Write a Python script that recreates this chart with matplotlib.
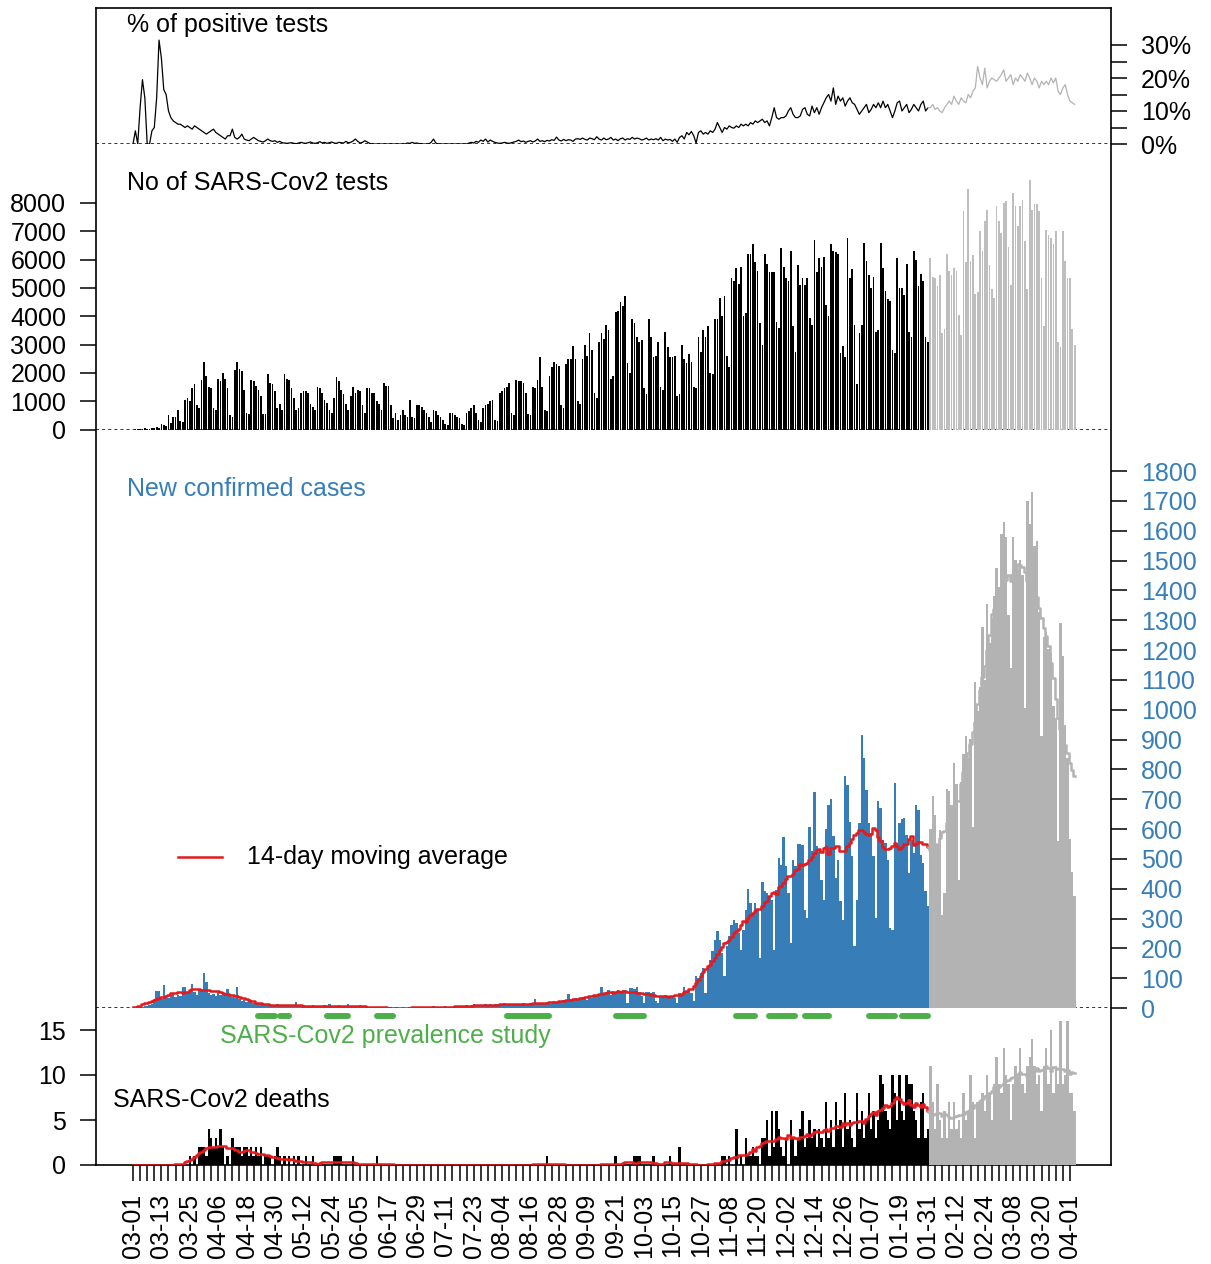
import matplotlib
matplotlib.use('Agg')
import matplotlib.pyplot as plt
import numpy as np
import pandas as pd

plt.rcParams['font.family'] = ['Liberation Sans', 'DejaVu Sans']
plt.rcParams['font.size'] = 18

start_date = '2020-03-01'
last_black_day = 336          # 2021-01-31, later days are drawn in grey

# daily values, one row per week (Mon..Sun); first row is Sun 2020-03-01
pos_pct = [
    0,
    4, 0, 11, 19.5, 14, 0, 0,
    4, 5, 14, 31.5, 26, 16.5, 15,
    10, 8, 7, 6.5, 6, 6, 5.5,
    5, 5.5, 5, 4.5, 5.5, 5, 4.5,
    4, 3.5, 3, 3.5, 4, 4.5, 3.5,
    3, 2.5, 2, 1.5, 2.5, 2.5, 4.5,
    2, 1.5, 2, 3, 1.5, 1.2, 1,
    1.5, 2, 1.5, 1, 0.8, 0.6, 1,
    1.5, 1, 0.8, 1, 0.5, 0.8, 0.4,
    0.3, 0.2, 0.3, 0.4, 0.2, 0.1, 0.3,
    0.5, 0.3, 0.2, 0.4, 0.6, 0.3, 0.2,
    0.4, 0.7, 0.3, 0.5, 0.2, 0.4, 0.6,
    0.3, 0.2, 0.5, 0.4, 0.3, 0.8, 0.4,
    0.5, 0.9, 1.5, 0.8, 0.3, 0.5, 1,
    0.6, 0.2, 0, 0, 0, 0, 0,
    0, 0, 0, 0, 0, 0, 0,
    0, 0, 0, 0.3, 0.2, 0.5, 0.2,
    0.3, 0.1, 0, 0, 0, 0, 0.5,
    1.5, 0.3, 0, 0, 0, 0, 0,
    0, 0, 0, 0, 0, 0, 0,
    0, 0.3, 0.5, 0.3, 0.8, 0.5, 1.2,
    0.8, 1.5, 0.6, 1.2, 0.8, 0.5, 0.3,
    0.2, 0.3, 0.5, 0.3, 0.2, 0.4, 0.6,
    0.8, 1.2, 0.7, 0.9, 0.5, 0.8, 1,
    0.6, 0.9, 1.5, 0.8, 1, 0.7, 1.1,
    0.9, 1.3, 1.1, 2.1, 1.2, 0.9, 1.4,
    1, 1.3, 1.2, 0.8, 1.5, 1.6, 1.4,
    1.8, 1.4, 1.2, 1.8, 1.6, 1.3, 2.2,
    1.5, 1.2, 1.8, 1.3, 1.5, 2, 1.2,
    1.5, 1, 1.6, 1.8, 1.2, 1.6, 1.4,
    2, 1.5, 1.8, 1.6, 1.2, 1.4, 1.8,
    1.2, 1.5, 1.3, 1.6, 1.2, 2, 1,
    1.5, 1.2, 1.4, 0.8, 1.5, 0.5, 2,
    2.5, 1.5, 3.5, 2.8, 3.8, 2.5, 0.3,
    3.5, 4, 3, 3.5, 3, 4, 3.5,
    4.5, 6.5, 5, 3.5, 5, 4.5, 5.5,
    5, 4.8, 5.5, 5, 6, 5.5, 6,
    5.5, 6.5, 6, 7, 6.5, 7, 7.5,
    6.5, 7, 5.5, 8, 11, 8, 7.5,
    8, 8, 8.5, 10, 11, 9, 8,
    8, 8.5, 10.5, 11, 9, 8.5, 11.5,
    9.5, 11, 9, 11, 12.5, 14, 15,
    13, 17, 12, 14.5, 13, 14, 11.5,
    13, 14, 12.5, 12, 10.5, 9, 10,
    11, 12, 9.5, 10.5, 12, 11, 12.5,
    11, 13, 11, 12, 10, 8, 10,
    12.5, 13, 10, 11, 12, 9.5, 10.5,
    12, 11, 10, 12, 13, 10, 11,
    11, 12, 10.5, 11, 10, 9.5, 11,
    12, 13, 12, 14.5, 13, 12, 14,
    13, 12.5, 15, 14, 16, 17, 23.5,
    20, 18, 23, 17, 19, 20, 19.5,
    19, 20, 21, 22.5, 19, 20, 21,
    18, 20, 19, 21, 20, 19, 21.5,
    20, 18, 20, 19, 17, 19, 18,
    19, 18, 20, 18.5, 20, 16, 15,
    17, 18, 15, 13, 12.5, 12,
]

tests = [
    0,
    10, 20, 30, 20, 40, 30, 20,
    60, 50, 80, 70, 200, 150, 120,
    500, 220, 450, 450, 700, 300, 280,
    1050, 1100, 1000, 1450, 1600, 850, 750,
    1750, 2400, 1900, 1500, 1450, 750, 700,
    1800, 1700, 2000, 1800, 1450, 500, 450,
    2100, 2400, 2150, 2050, 1400, 600, 550,
    1750, 1700, 1550, 1400, 1200, 550, 550,
    1950, 1650, 1600, 1350, 750, 900, 700,
    1950, 1800, 1750, 1450, 1100, 700, 750,
    1300, 1350, 1350, 1300, 900, 800, 700,
    1500, 1450, 1300, 1050, 950, 700, 600,
    1100, 1850, 1700, 1400, 1250, 900, 700,
    1200, 1500, 1300, 1400, 1350, 850, 600,
    1450, 1450, 1300, 1300, 1000, 900, 700,
    1650, 1550, 1550, 850, 400, 600, 350,
    500, 700, 500, 450, 1050, 450, 400,
    850, 850, 800, 700, 600, 450, 250,
    700, 650, 500, 450, 350, 200, 150,
    600, 600, 500, 450, 400, 200, 150,
    600, 650, 750, 850, 600, 350, 250,
    750, 850, 900, 1000, 1050, 350, 300,
    1300, 1350, 1450, 1500, 1650, 600, 500,
    1750, 1700, 1700, 1650, 1300, 550, 500,
    1500, 1450, 1750, 2550, 1500, 700, 650,
    1900, 2200, 2400, 2300, 2250, 850, 750,
    2300, 2500, 2500, 2950, 2500, 1000, 900,
    2500, 3000, 2600, 3400, 2800, 1300, 1100,
    3100, 3400, 3200, 3700, 3500, 1800, 1900,
    4150, 4200, 4500, 4350, 4700, 2350, 2000,
    3900, 3750, 3250, 3100, 3150, 1450, 1250,
    3900, 3250, 2550, 2600, 3100, 1500, 1400,
    3450, 2900, 2550, 2550, 2600, 1200, 1250,
    3000, 2500, 2350, 2650, 2400, 1500, 1450,
    3250, 2750, 3500, 3250, 3650, 2000, 1950,
    3900, 3900, 4650, 4000, 4700, 2600, 2200,
    5350, 5250, 5700, 5150, 5750, 4000, 4100,
    6200, 6200, 6550, 5900, 5600, 3750, 3000,
    6200, 5850, 5550, 5550, 5550, 3800, 3600,
    6400, 5750, 5350, 5250, 6300, 3650, 2750,
    5800, 5100, 5350, 5100, 5350, 3950, 3700,
    6700, 5550, 6050, 5750, 6100, 4400, 4000,
    6550, 6300, 6250, 6200, 2700, 2950, 2550,
    6750, 5350, 5650, 3700, 1600, 3400, 3700,
    6600, 5950, 5450, 5000, 5400, 3450, 3500,
    6600, 5700, 4900, 4600, 4550, 2800, 2700,
    6050, 5000, 5000, 4750, 5850, 3450, 3250,
    6300, 6000, 5050, 5500, 5250, 3250, 3100,
    6050, 5400, 5350, 5050, 5450, 3400, 3550,
    6200, 5600, 5450, 5700, 5600, 4050, 3350,
    7700, 5900, 8500, 5950, 6150, 4800, 4850,
    7000, 6300, 7350, 7750, 5800, 4950, 4650,
    7900, 7350, 6950, 8000, 8050, 6450, 5100,
    8350, 7900, 7200, 7900, 8100, 6650, 4950,
    8800, 7750, 7950, 7950, 7700, 5350, 3650,
    7050, 6850, 6750, 6550, 7000, 3100, 2900,
    7000, 5950, 5350, 5350, 3550, 3000,
]

cases = [
    0,
    2, 3, 5, 3, 8, 6, 10,
    15, 25, 58, 56, 30, 78, 40,
    35, 45, 50, 38, 45, 40, 72,
    70, 55, 60, 80, 52, 45, 60,
    58, 116, 86, 50, 45, 48, 40,
    58, 45, 50, 42, 64, 45, 38,
    35, 72, 30, 25, 28, 20, 22,
    25, 18, 15, 12, 14, 10, 12,
    10, 8, 10, 8, 12, 9, 7,
    10, 8, 6, 9, 7, 19, 8,
    6, 9, 7, 5, 8, 10, 6,
    8, 5, 7, 9, 6, 12, 8,
    5, 7, 10, 6, 4, 8, 12,
    6, 8, 5, 7, 9, 4, 6,
    5, 3, 4, 2, 3, 2, 1,
    2, 0, 3, 1, 0, 2, 1,
    0, 2, 1, 0, 1, 3, 2,
    4, 1, 3, 2, 5, 3, 4,
    6, 3, 5, 4, 2, 6, 5,
    3, 4, 6, 3, 5, 4, 8,
    10, 7, 9, 12, 8, 10, 11,
    9, 14, 10, 12, 8, 15, 13,
    10, 12, 16, 11, 9, 14, 12,
    15, 13, 10, 16, 12, 14, 18,
    12, 30, 15, 13, 17, 12, 20,
    15, 18, 22, 16, 25, 20, 28,
    22, 47, 30, 25, 35, 28, 30,
    38, 32, 28, 40, 35, 45, 40,
    42, 72, 50, 55, 60, 45, 58,
    55, 62, 50, 60, 60, 17, 67,
    67, 65, 70, 55, 40, 17, 52,
    55, 50, 52, 22, 17, 41, 40,
    42, 41, 38, 40, 35, 17, 50,
    45, 70, 55, 60, 50, 22, 106,
    100, 117, 134, 50, 140, 162, 190,
    229, 257, 229, 184, 106, 207, 240,
    279, 296, 285, 251, 195, 262, 330,
    399, 352, 318, 352, 330, 168, 424,
    391, 385, 374, 363, 195, 397, 503,
    480, 573, 475, 385, 218, 497, 475,
    551, 551, 547, 330, 302, 607, 525,
    724, 542, 522, 430, 363, 600, 681,
    700, 575, 436, 497, 357, 296, 776,
    748, 625, 508, 207, 363, 620, 916,
    838, 732, 620, 586, 508, 302, 693,
    670, 564, 553, 497, 268, 262, 754,
    553, 620, 632, 637, 580, 452, 564,
    520, 681, 665, 514, 486, 391, 341,
    601, 711, 647, 549, 595, 312, 387,
    734, 728, 682, 821, 751, 428, 757,
    850, 913, 838, 902, 607, 1092, 994,
    1075, 1277, 1098, 1353, 1225, 1306, 1381,
    1474, 1410, 1590, 1630, 1578, 1318, 1139,
    1578, 1503, 1468, 1503, 1451, 1006, 1699,
    1624, 1728, 1549, 1566, 1329, 913, 1243,
    1260, 1202, 1191, 1012, 971, 561, 1289,
    1179, 948, 838, 566, 457, 376,
]

deaths = [
    0,
    0, 0, 0, 0, 0, 0, 0,
    0, 0, 0, 0, 0, 0, 0,
    0, 0, 0, 0, 0, 0, 0,
    0, 0, 1, 0, 1, 0, 2,
    2, 2, 1, 4, 3, 2, 3,
    2, 4, 2, 0, 1, 0, 3,
    2, 2, 2, 1, 2, 2, 1,
    2, 1, 2, 1, 2, 0, 1,
    1, 1, 0, 1, 2, 1, 0,
    1, 0, 1, 0, 1, 0, 1,
    0, 0, 1, 0, 0, 1, 0,
    0, 0, 0, 0, 0, 0, 0,
    1, 1, 1, 1, 0, 0, 0,
    0, 1, 0, 0, 0, 0, 0,
    0, 0, 0, 0, 1, 0, 0,
    0, 0, 0, 0, 0, 0, 0,
    0, 0, 0, 0, 0, 0, 0,
    0, 0, 0, 0, 0, 0, 0,
    0, 0, 0, 0, 0, 0, 0,
    0, 0, 0, 0, 0, 0, 0,
    0, 0, 0, 0, 0, 0, 0,
    0, 0, 0, 0, 0, 0, 0,
    0, 0, 0, 0, 0, 0, 0,
    0, 0, 0, 0, 0, 0, 0,
    0, 0, 0, 0, 0, 0, 1,
    0, 0, 0, 0, 0, 0, 0,
    0, 0, 0, 0, 0, 0, 0,
    0, 0, 0, 0, 0, 0, 0,
    0, 0, 0, 0, 0, 0, 0,
    1, 0, 0, 0, 0, 0, 0,
    0, 1, 1, 1, 0, 0, 0,
    0, 0, 1, 0, 0, 0, 0,
    0, 0, 1, 0, 0, 0, 2,
    0, 0, 0, 0, 0, 0, 0,
    0, 0, 0, 0, 0, 0, 0,
    0, 0, 0, 1, 1, 0, 1,
    0, 0, 4, 0, 1, 0, 3,
    1, 1, 2, 1, 1, 0, 3,
    3, 5, 1, 6, 2, 6, 4,
    2, 1, 3, 0, 5, 3, 1,
    3, 4, 6, 2, 3, 5, 3,
    4, 2, 4, 3, 2, 7, 3,
    5, 2, 7, 4, 5, 2, 8,
    4, 5, 3, 2, 8, 4, 6,
    3, 5, 8, 4, 6, 3, 5,
    10, 9, 6, 5, 4, 10, 8,
    5, 10, 6, 5, 10, 9, 9,
    6, 5, 3, 7, 8, 3, 4,
    11, 7, 4, 9, 5, 3, 6,
    3, 7, 4, 7, 4, 5, 3,
    8, 5, 6, 10, 7, 3, 7,
    7, 8, 6, 10, 8, 5, 9,
    12, 9, 8, 13, 10, 9, 5,
    9, 11, 10, 13, 9, 8, 11,
    12, 14, 11, 9, 10, 6, 11,
    13, 9, 15, 8, 11, 9, 16,
    9, 10, 16, 8, 8, 6,
]

# SARS-Cov2 prevalence study rounds
study_start = ['2020-04-23', '2020-05-02', '2020-05-22', '2020-06-12', '2020-08-06', '2020-09-21',
               '2020-11-11', '2020-11-25', '2020-12-10', '2021-01-06', '2021-01-20']
study_end = ['2020-04-30', '2020-05-06', '2020-05-31', '2020-06-19', '2020-08-24', '2020-10-03',
             '2020-11-19', '2020-12-06', '2020-12-20', '2021-01-17', '2021-01-31']

blue = '#377eb8'
red = '#e41a1c'
green = '#4daf4a'
grey = '#b3b3b3'
grey_tests = '#bebebe'

n = min(len(pos_pct), len(tests), len(cases), len(deaths))
days = np.arange(n)
dates = pd.date_range(start_date, periods=n)
pos_pct = np.array(pos_pct[:n], dtype=float)
tests = np.array(tests[:n], dtype=float)
cases = np.array(cases[:n], dtype=float)
deaths = np.array(deaths[:n], dtype=float)
k = last_black_day + 1

# centred 14-day moving averages
cases_ma = pd.Series(cases).rolling(14, center=True, min_periods=1).mean().values
deaths_ma = pd.Series(deaths).rolling(14, center=True, min_periods=1).mean().values

W, H = 1211, 1264
fig = plt.figure(figsize=(W / 100, H / 100), dpi=100)
xl, xr = 96, 1111
x0, px_day = 133, 2.366
xlim = ((xl - x0) / px_day, (xr - x0) / px_day)


def rect(top, bottom):
    return [xl / W, 1 - bottom / H, (xr - xl) / W, (bottom - top) / H]


frame = fig.add_axes(rect(8, 1165))
frame.set_xticks([])
frame.set_yticks([])
for s in frame.spines.values():
    s.set_linewidth(1.2)

ax_pos = fig.add_axes(rect(8, 144))
ax_tests = fig.add_axes(rect(144, 429.5))
ax_cases = fig.add_axes(rect(429.5, 1008))
ax_deaths = fig.add_axes(rect(1008, 1165))

for ax in (ax_pos, ax_tests, ax_cases, ax_deaths):
    ax.patch.set_alpha(0)
    for s in ax.spines.values():
        s.set_visible(False)
    ax.set_xlim(*xlim)
    ax.tick_params(axis='x', bottom=False, labelbottom=False)
    ax.tick_params(axis='y', length=11.5, width=1.1, pad=10)

dot = (0, (2, 2))

# % of positive tests
ax_pos.set_ylim(0, 136 / 3.3)
ax_pos.axhline(0, color='black', ls=dot, lw=1.1, zorder=0.5)
ax_pos.plot(days[:k], pos_pct[:k], color='black', lw=0.9)
ax_pos.plot(days[k - 1:], pos_pct[k - 1:], color=grey, lw=0.9)
ax_pos.yaxis.tick_right()
ax_pos.set_yticks(np.arange(0, 31, 5))
ax_pos.set_yticklabels(['0%', '', '10%', '', '20%', '', '30%'])
ax_pos.text(-2.5, 36.0, '% of positive tests', va='center', ha='left')

# number of tests
ax_tests.set_ylim(0, 285.5 / 0.02833)
ax_tests.axhline(0, color='black', ls=dot, lw=1.1, zorder=0.5)
ax_tests.bar(days[:k], tests[:k], width=0.72, color='black', linewidth=0)
ax_tests.bar(days[k:], tests[k:], width=0.72, color=grey_tests, linewidth=0)
ax_tests.set_yticks(np.arange(0, 8001, 1000))
ax_tests.text(-2.5, 8700, 'No of SARS-Cov2 tests', va='center', ha='left')

# new confirmed cases
ax_cases.set_ylim(0, 578.5 / 0.29833)
ax_cases.axhline(0, color='black', ls=dot, lw=1.1, zorder=0.5)
ax_cases.bar(days[:k], cases[:k], width=1.0, color=blue, linewidth=0, antialiased=False)
ax_cases.bar(days[k:], cases[k:], width=1.0, color=grey, linewidth=0, antialiased=False)
ax_cases.plot(days[:k], cases_ma[:k], color=red, lw=1.8, drawstyle='steps-mid')
ax_cases.plot(days[k - 1:], cases_ma[k - 1:], color=grey, lw=1.8, drawstyle='steps-mid')
ax_cases.yaxis.tick_right()
ax_cases.set_yticks(np.arange(0, 1801, 100))
ax_cases.tick_params(axis='y', labelcolor=blue)
ax_cases.text(-2.5, 1740, 'New confirmed cases', color=blue, va='center', ha='left')
ax_cases.plot([19, 37.6], [506, 506], color=red, lw=1.8)
ax_cases.text(48.2, 506, '14-day moving average', va='center', ha='left')

# deaths
ax_deaths.set_ylim(0, 157 / 9)
ax_deaths.bar(days[:k], deaths[:k], width=1.0, color='black', linewidth=0, antialiased=False)
ax_deaths.bar(days[k:], deaths[k:], width=1.0, color=grey, linewidth=0, antialiased=False)
ax_deaths.plot(days[:k], deaths_ma[:k], color=red, lw=1.8, drawstyle='steps-mid')
ax_deaths.plot(days[k - 1:], deaths_ma[k - 1:], color=grey, lw=1.8, drawstyle='steps-mid')
ax_deaths.set_yticks([0, 5, 10, 15])
ax_deaths.text(-8.5, 7.2, 'SARS-Cov2 deaths', va='center', ha='left')

t0 = pd.Timestamp(start_date)
for s, e in zip(study_start, study_end):
    ds = (pd.Timestamp(s) - t0).days
    de = (pd.Timestamp(e) - t0).days
    ax_deaths.plot([ds, de], [16.55, 16.55], color=green, lw=4.3,
                   solid_capstyle='round', clip_on=False)
ax_deaths.text(36.8, 14.3, 'SARS-Cov2 prevalence study', color=green, va='center', ha='left')

# date axis: a tick every 3 days, a label every 12
tick_days = np.arange(0, 397, 3)
ax_deaths.set_xticks(tick_days)
ax_deaths.set_xticklabels([dates[d].strftime('%m-%d') if d % 12 == 0 else '' for d in tick_days],
                          rotation=90)
ax_deaths.tick_params(axis='x', bottom=True, labelbottom=True, length=11.5, width=1.1, pad=9)

plt.savefig('out.png', dpi=100)
